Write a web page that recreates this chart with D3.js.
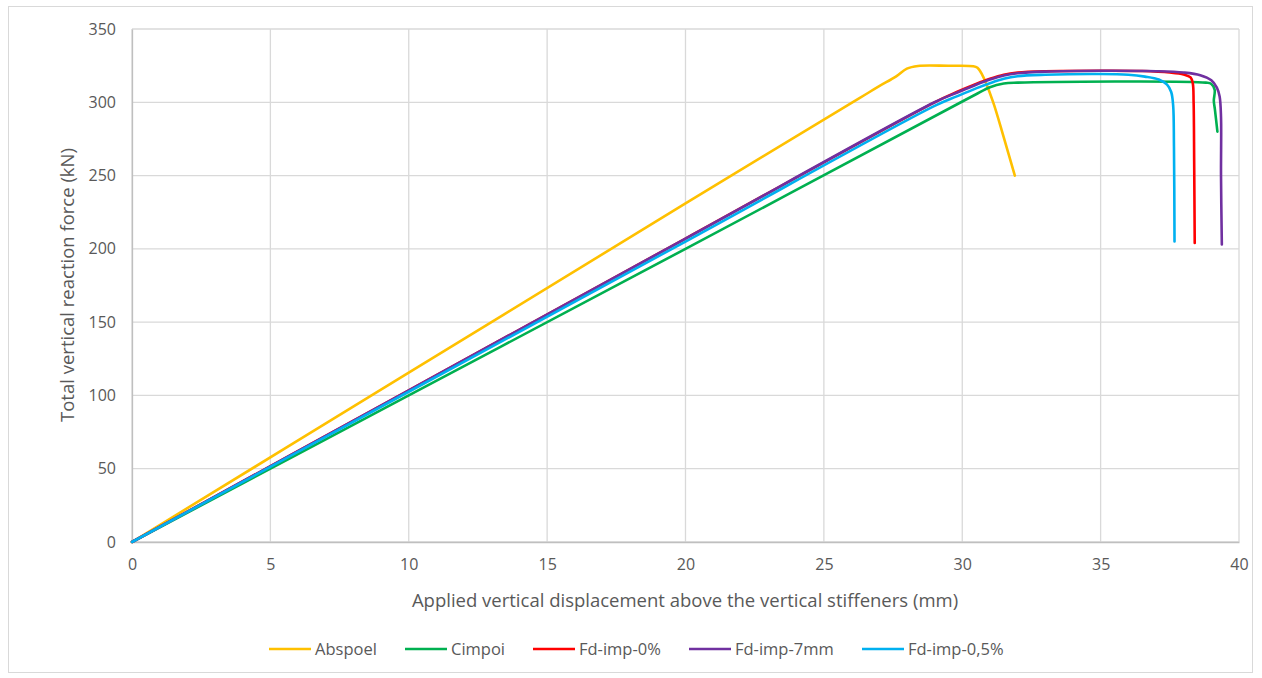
<!DOCTYPE html>
<html>
<head>
<meta charset="utf-8">
<script src="https://cdn.jsdelivr.net/npm/d3@7"></script>
<style>
  body { margin: 0; background: #fff; }
  svg text { font-family: "Open Sans", "Liberation Sans", sans-serif; fill: #595959; }
</style>
</head>
<body>
<script>
// Series data: [displacement (mm), force (kN)]
const abspoel = [[0,0],[10,115.5],[20,231],[26.3,303],[27.0,311],[27.6,317.5],[28.0,323],[28.4,324.8],[29.5,324.9],[30.4,324.6],[30.55,323.5],[30.7,319.5],[31.1,301],[31.5,276],[31.9,250]];
const cimpoi = [[0,0],[10,100],[20,200],[29.9,299.5],[30.5,305.5],[31.0,310.3],[31.5,312.8],[32,313.4],[38.8,313.4],[39.0,312.5],[39.12,308.5],[39.09,301],[39.13,295],[39.22,280]];
const fdImp0 = [[0,0],[10,103.5],[20,207],[29,300],[29.8,307],[30.5,312.5],[31,316],[31.5,318.8],[32,320.3],[33,321.2],[35,321.5],[36.5,321.3],[37.5,320.3],[38.0,319],[38.25,317],[38.33,313],[38.36,300],[38.38,260],[38.4,204]];
const fdImp7mm = [[0,0],[10,103.5],[20,207],[29,300],[29.8,306.5],[30.5,312],[31,315.5],[31.5,318.3],[32,319.8],[33,320.9],[35,321.5],[37,321.2],[38,320.3],[38.6,318.5],[39.0,315],[39.2,310],[39.3,304],[39.35,290],[39.35,250],[39.38,203]];
const fdImp05 = [[0,0],[10,102.5],[20,205],[29,297.5],[29.8,304],[30.5,309.5],[31,313],[31.5,316],[32,317.8],[33,318.8],[35,319.3],[36,318.8],[36.6,317.5],[37.1,315.5],[37.4,312],[37.55,307],[37.62,298],[37.65,270],[37.67,205]];

const seriesNames = ["Abspoel", "Cimpoi", "Fd-imp-0%", "Fd-imp-7mm", "Fd-imp-0,5%"];
const seriesData = [abspoel, cimpoi, fdImp0, fdImp7mm, fdImp05];
const seriesColors = ["#FFC000", "#00B050", "#FF0000", "#7030A0", "#00B0F0"];

const xTicks = [0, 5, 10, 15, 20, 25, 30, 35, 40];
const yTicks = [0, 50, 100, 150, 200, 250, 300, 350];

const width = 1262, height = 678;
const margin = { top: 29, right: 23, bottom: 136, left: 132 };

const svg = d3.select("body").append("svg")
    .attr("width", width)
    .attr("height", height);

// Outer chart border
svg.append("rect")
    .attr("x", 8.5).attr("y", 6.5)
    .attr("width", 1244).attr("height", 666)
    .attr("fill", "none")
    .attr("stroke", "#d9d9d9");

const xScale = d3.scaleLinear()
    .domain([0, 40])
    .range([margin.left, width - margin.right]);

const yScale = d3.scaleLinear()
    .domain([0, 350])
    .range([height - margin.bottom, margin.top]);

// Grid lines
svg.append("g")
    .selectAll("line")
    .data(xTicks)
    .join("line")
    .attr("x1", d => xScale(d)).attr("x2", d => xScale(d))
    .attr("y1", yScale(0)).attr("y2", yScale(350))
    .attr("stroke", "#d9d9d9")
    .attr("stroke-width", 1.3);

svg.append("g")
    .selectAll("line")
    .data(yTicks)
    .join("line")
    .attr("x1", xScale(0)).attr("x2", xScale(40))
    .attr("y1", d => yScale(d)).attr("y2", d => yScale(d))
    .attr("stroke", "#d9d9d9")
    .attr("stroke-width", 1.3);

// Axes (labels only, no tick marks)
const xAxis = svg.append("g")
    .attr("transform", `translate(0,${yScale(0)})`)
    .call(d3.axisBottom(xScale).tickValues(xTicks).tickSize(0).tickPadding(17));
xAxis.select(".domain").attr("stroke", "#bfbfbf").attr("stroke-width", 1.3);
xAxis.selectAll("text").style("font-size", "16px").attr("fill", "#595959");

const yAxis = svg.append("g")
    .attr("transform", `translate(${xScale(0)},0)`)
    .call(d3.axisLeft(yScale).tickValues(yTicks).tickSize(0).tickPadding(16));
yAxis.select(".domain").attr("stroke", "#bfbfbf").attr("stroke-width", 1.3);
yAxis.selectAll("text").style("font-size", "16px").attr("fill", "#595959");

// Axis titles
svg.append("text")
    .attr("x", 685)
    .attr("y", 607)
    .attr("text-anchor", "middle")
    .style("font-size", "18.5px")
    .text("Applied vertical displacement above the vertical stiffeners (mm)");

svg.append("text")
    .attr("transform", "rotate(-90)")
    .attr("x", -285)
    .attr("y", 74)
    .attr("text-anchor", "middle")
    .style("font-size", "18.5px")
    .text("Total vertical reaction force (kN)");

// Lines
const line = d3.line()
    .x(d => xScale(d[0]))
    .y(d => yScale(d[1]))
    .curve(d3.curveCatmullRom.alpha(0.5));

seriesData.forEach((data, i) => {
    svg.append("path")
        .datum(data)
        .attr("fill", "none")
        .attr("stroke", seriesColors[i])
        .attr("stroke-width", 2.6)
        .attr("stroke-linejoin", "round")
        .attr("stroke-linecap", "round")
        .attr("d", line);
});

// Legend
const legendX = [269, 405, 533, 689, 862];
const legendY = 649;
seriesNames.forEach((name, i) => {
    svg.append("line")
        .attr("x1", legendX[i]).attr("x2", legendX[i] + 42)
        .attr("y1", legendY).attr("y2", legendY)
        .attr("stroke", seriesColors[i])
        .attr("stroke-width", 2.6);
    svg.append("text")
        .attr("x", legendX[i] + 46)
        .attr("y", legendY + 6)
        .style("font-size", "16.5px")
        .text(name);
});
</script>
</body>
</html>
